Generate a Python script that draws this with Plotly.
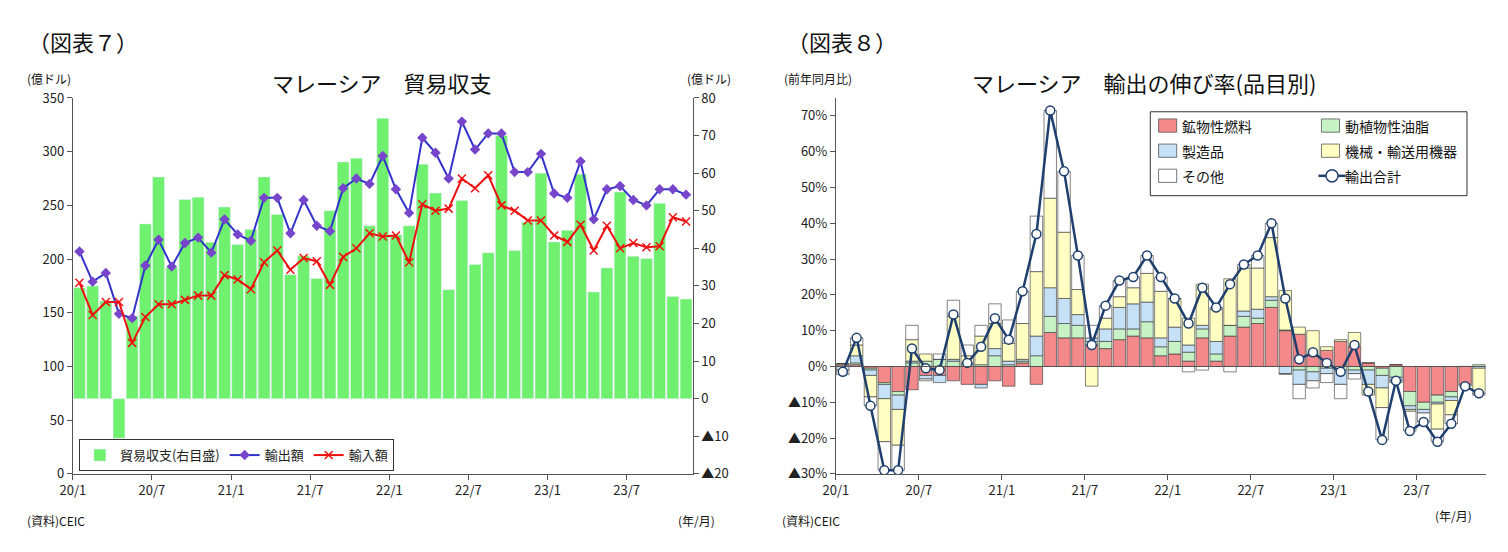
import plotly.graph_objects as go

months = list(range(47))
xtick_labels = ["20/1", "20/7", "21/1", "21/7", "22/1", "22/7", "23/1", "23/7"]

exports = [207,179,187,149,145,194,218,193,215,220,206,237,223,217,257,257,224,255,231,226,266,275,270,296,265,243,313,299,275,328,302,317,317,281,281,298,261,257,291,237,265,268,255,250,265,265,260]
imports = [178,148,160,160,122,146,158,158,162,166,166,185,181,172,197,208,190,201,198,176,202,210,224,221,222,197,251,245,247,275,266,278,250,245,236,236,222,216,232,208,231,210,215,211,212,239,235]
balance = [29.5,30,26,-10.5,22,46.5,59,35,53,53.6,41.6,51,41,45,59,49,33,38,32,50,63,64,46,74.6,43.6,46,62.4,54.7,29,52.7,35.7,38.8,70,39.4,47,60,41.7,44.8,59.7,28.4,34.8,55,37.9,37.3,52,27.2,26.5]

fuel  = [0.5,0.5,-0.5,-4.5,-7,-6.5,-2.5,-2.5,-4,-5,-5,-4,-5.5,1,-5,9.5,8,8,6,5,7.5,8.5,8,3,3.5,1.5,8,1.5,8.5,11,12,16.5,10,9,3,4.5,7,5.5,1,-0.5,0.5,-7,-10,-8,-7,-5,0]
oils  = [0.3,0.5,-0.5,-0.5,-1,1,1.5,2,1.5,0.5,0.5,3,0.5,0.5,3,4.5,4,3.5,1,2,3,2,4.5,2.5,3.5,2.5,2.5,2,3,3,1.5,2,0.2,-1,-1.5,-0.5,-1,-1,-1,-2,-3,-4,-2,-2,-1.5,0,0.5]
manuf = [-1,2,-1.5,-4,-4,0.5,-1,-2,0.5,0.5,-1,2,1,0.5,5.5,8,7,3,1,3.5,6,7,5.5,2.5,4,2,1,3.5,0,1.5,2.5,1,-2,-4,-2.5,-1.5,-4,-1,-4,-3.5,-1,-1,-1,-0.5,-1,0,-0.5]
mach  = [0,3,-6,-12,-10,6,2,0,12,2,8,7,5,10,18,25,18.5,7,-5.5,3,3,4.5,8,13,8,7.5,11.5,9,13,12,11.5,16.5,11,2,7,1,0.5,4,-3,-5.5,0,-0.5,0,-7,-4,0,-7]
other = [-1.3,2,-2.5,-8,-7,4,-0.5,1.5,4.5,3,3,5.5,6.5,9,15.5,24.5,17,9.5,3.5,3.5,4.5,3,5,4,0,-1.5,-1,0.5,-1.5,1,3.5,4,-0.2,-4,-2,-2.5,-4,-1.5,0,-9,-0.5,-5.5,-2.5,-3.5,-2.5,-0.5,-0.5]
total = [-1.5,8,-11,-29,-29,5,-0.5,-1,14.5,1,5.5,13.5,7.5,21,37,71.5,54.5,31,6,17,24,25,31,25,19,12,22,16.5,23,28.5,31,40,19,2,4,1,-1.5,6,-7,-20.5,-4,-18,-15.5,-21,-16,-5.5,-7.5]

FONT = "Noto Sans CJK JP"
LINE_COL = "#1F3F6E"
fig = go.Figure()

# left chart: bars on right-side axis (y), lines on overlaying left axis (y2) so lines are drawn on top
fig.add_trace(go.Bar(x=months, y=balance, name="貿易収支(右目盛)", marker_color="#6FF06F",
                     xaxis="x", yaxis="y"))
fig.add_trace(go.Scatter(x=months, y=exports, name="輸出額", mode="lines+markers",
                         line=dict(color="#3333CC", width=2),
                         marker=dict(symbol="diamond", size=8, color="#7744CC"),
                         xaxis="x", yaxis="y2"))
fig.add_trace(go.Scatter(x=months, y=imports, name="輸入額", mode="lines+markers",
                         line=dict(color="#EE1111", width=2),
                         marker=dict(symbol="x-thin", size=8, line=dict(color="#EE1111", width=1.5)),
                         xaxis="x", yaxis="y2"))

# right chart
comps = [("鉱物性燃料", fuel, "#F4898B"), ("動植物性油脂", oils, "#C6F2C6"),
         ("製造品", manuf, "#C6E0F5"), ("機械・輸送用機器", mach, "#FFFFC4"),
         ("その他", other, "#FFFFFF")]
for nm, vals, col in comps:
    fig.add_trace(go.Bar(x=months, y=vals, name=nm, showlegend=False,
                         marker=dict(color=col, line=dict(color="#333333", width=0.6)),
                         xaxis="x2", yaxis="y3"))
fig.add_trace(go.Scatter(x=months, y=total, name="輸出合計", mode="lines+markers", showlegend=False,
                         line=dict(color=LINE_COL, width=2.5),
                         marker=dict(symbol="circle", size=9, color="white", line=dict(color=LINE_COL, width=1.5)),
                         xaxis="x2", yaxis="y3"))

tickpos = [-0.5 + 6 * k for k in range(8)]
axis_common = dict(showgrid=False, zeroline=False, showline=True, linecolor="#555", ticks="outside",
                   tickcolor="#555", tickfont=dict(size=13, color="#222"), automargin=False)

fig.update_layout(
    width=1508, height=552, margin=dict(l=0, r=0, t=0, b=0),
    plot_bgcolor="white", paper_bgcolor="white", font=dict(family=FONT, color="#222"),
    barmode="relative", bargap=0.1,
    xaxis=dict(domain=[0.043, 0.454], range=[-0.5, 46.5], tickvals=tickpos, ticktext=xtick_labels,
               anchor="y", **axis_common),
    yaxis=dict(domain=[0.156, 0.837], range=[-20, 80], tickvals=list(range(-20, 90, 10)),
               ticktext=["▲20", "▲10"] + [str(v) for v in range(0, 90, 10)],
               side="right", anchor="x", **axis_common),
    yaxis2=dict(range=[0, 350], dtick=50, overlaying="y", side="left", anchor="x", **axis_common),
    xaxis2=dict(domain=[0.549, 0.98], range=[-0.5, 46.5], tickvals=tickpos, ticktext=xtick_labels,
                anchor="y3", **axis_common),
    yaxis3=dict(domain=[0.156, 0.837], range=[-30, 75], tickvals=list(range(-30, 80, 10)),
                ticktext=["▲30%", "▲20%", "▲10%"] + [f"{v}%" for v in range(0, 80, 10)],
                anchor="x2", **axis_common),
    legend=dict(orientation="h", x=0.047, y=0.19, xanchor="left", yanchor="middle",
                bordercolor="#333", borderwidth=1, bgcolor="white", font=dict(size=13)),
    shapes=[dict(type="line", xref="x2", yref="y3", x0=-0.5, x1=46.5, y0=0, y1=0,
                 line=dict(color="#555", width=1))],
)

# manual two-column legend for right chart (paper coordinates)
lx0, lx1, ly0, ly1 = 0.7575, 0.9675, 0.66, 0.812
fig.add_shape(type="rect", xref="paper", yref="paper", x0=lx0, x1=lx1, y0=ly0, y1=ly1,
              line=dict(color="#333", width=1), fillcolor="white")
legend_items = [("鉱物性燃料", "#F4898B"), ("動植物性油脂", "#C6F2C6"), ("製造品", "#C6E0F5"),
                ("機械・輸送用機器", "#FFFFC4"), ("その他", "#FFFFFF"), ("輸出合計", None)]
for i, (nm, col) in enumerate(legend_items):
    cx = 0.763 if i % 2 == 0 else 0.871
    cy = 0.787 - (i // 2) * 0.0455
    if col:
        fig.add_shape(type="rect", xref="paper", yref="paper", x0=cx, x1=cx + 0.012, y0=cy - 0.012, y1=cy + 0.012,
                      line=dict(color="#555", width=0.8), fillcolor=col)
    else:
        fig.add_shape(type="line", xref="paper", yref="paper", x0=cx - 0.002, x1=cx + 0.016, y0=cy, y1=cy,
                      line=dict(color=LINE_COL, width=2.5))
        fig.add_shape(type="circle", xref="paper", yref="paper", x0=cx + 0.003, x1=cx + 0.011,
                      y0=cy - 0.011, y1=cy + 0.011, line=dict(color=LINE_COL, width=1.5), fillcolor="white")
    fig.add_annotation(xref="paper", yref="paper", x=cx + 0.014, y=cy, text=nm, showarrow=False,
                       xanchor="left", yanchor="middle", font=dict(size=14, family=FONT, color="#111"))

anns = [
    dict(x=0.012, y=0.94, text="（図表７）", size=22),
    dict(x=0.515, y=0.94, text="（図表８）", size=22),
    dict(x=0.011, y=0.873, text="(億ドル)", size=12),
    dict(x=0.449, y=0.873, text="(億ドル)", size=12),
    dict(x=0.513, y=0.873, text="(前年同月比)", size=12),
    dict(x=0.011, y=0.072, text="(資料)CEIC", size=12),
    dict(x=0.443, y=0.072, text="(年/月)", size=12),
    dict(x=0.512, y=0.072, text="(資料)CEIC", size=12),
    dict(x=0.945, y=0.08, text="(年/月)", size=12),
]
for a in anns:
    fig.add_annotation(xref="paper", yref="paper", x=a["x"], y=a["y"], text=a["text"], showarrow=False,
                       xanchor="left", yanchor="middle", font=dict(size=a["size"], family=FONT, color="#111"))
fig.add_annotation(xref="paper", yref="paper", x=0.248, y=0.866, text="マレーシア　貿易収支", showarrow=False,
                   xanchor="center", yanchor="middle", font=dict(size=22, family=FONT, color="#111"))
fig.add_annotation(xref="paper", yref="paper", x=0.753, y=0.866, text="マレーシア　輸出の伸び率(品目別)", showarrow=False,
                   xanchor="center", yanchor="middle", font=dict(size=22, family=FONT, color="#111"))

fig.write_html("out.html")
